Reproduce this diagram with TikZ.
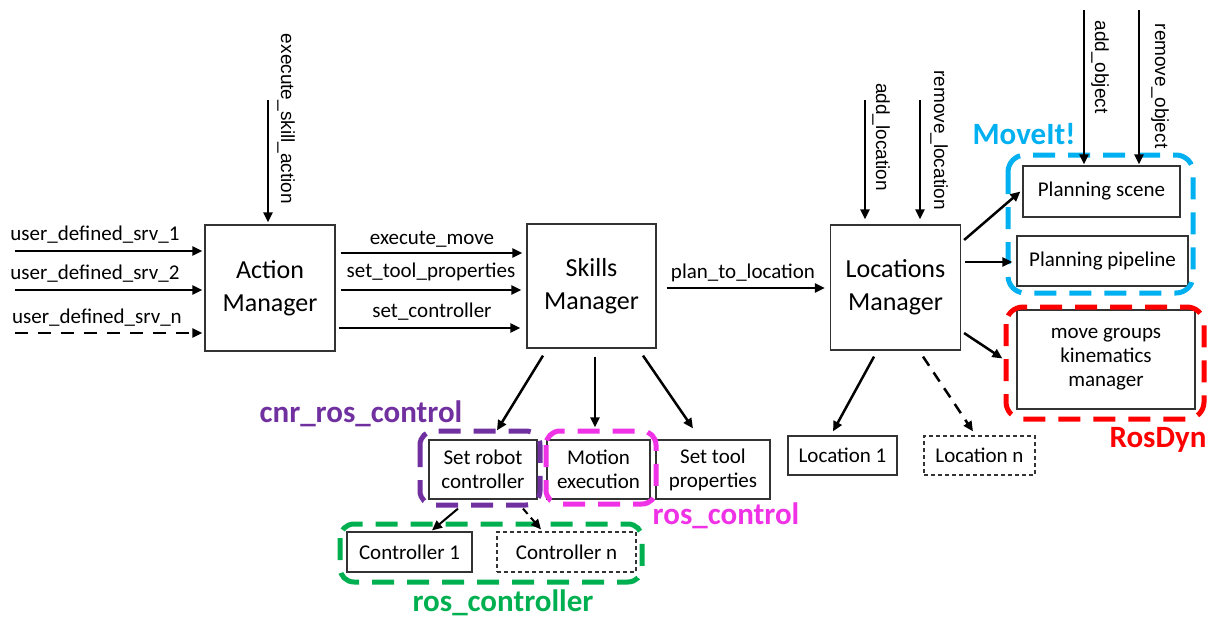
\documentclass[tikz,border=0pt]{standalone}
\usepackage{fontspec}
\setmainfont{Carlito}
\newfontfamily\arialfont{Liberation Sans}
\usetikzlibrary{arrows.meta,calc}

\definecolor{mvcyan}{RGB}{0,176,240}
\definecolor{rdred}{RGB}{255,0,0}
\definecolor{cnrpurple}{RGB}{112,48,160}
\definecolor{rcmagenta}{RGB}{240,50,230}
\definecolor{rcgreen}{RGB}{0,176,80}

\begin{document}
\begin{tikzpicture}[x=1pt,y=-1pt,
  box/.style={draw=black!80, line width=1.2pt, inner sep=0pt, align=center,
    font=\fontsize{21}{24}\selectfont},
  mgr/.style={box, font=\fontsize{26}{33}\selectfont},
  dbox/.style={box, dash pattern=on 4pt off 3pt},
  arr/.style={line width=2.5pt, -{Triangle[length=10pt,width=9pt]}},
  darr/.style={arr, dash pattern=on 13pt off 10pt},
  sdarr/.style={arr, dash pattern=on 7pt off 5pt},
  lbl/.style={font=\fontsize{21}{24}\selectfont, inner sep=0pt},
  vlbl/.style={font=\arialfont\fontsize{19}{22}\selectfont, rotate=-90, inner sep=0pt},
  grp/.style={line width=5pt, rounded corners=17pt, dash pattern=on 22pt off 13pt},
  glbl/.style={font=\bfseries\fontsize{31}{36}\selectfont, inner sep=0pt}
]
\useasboundingbox (0,0) rectangle (1213,618);
\fill[white] (0,0) rectangle (1213,618);

% managers
\node[mgr, minimum width=130pt, minimum height=126pt] (am) at (270,288) {Action\\Manager};
\node[mgr, minimum width=129pt, minimum height=124pt] (sm) at (591.5,286) {Skills\\Manager};
\node[mgr, minimum width=130pt, minimum height=125pt] (lm) at (895.5,287.5) {Locations\\Manager};

% MoveIt! / RosDyn components
\node[box, minimum width=157pt, minimum height=51pt] (ps) at (1101.5,191.5) {Planning scene};
\node[box, minimum width=171pt, minimum height=50pt] (pp) at (1102.5,261) {Planning pipeline};
\node[box, minimum width=178pt, minimum height=99pt] (mg) at (1106,359.5) {move groups\\kinematics\\manager};

% locations
\node[box, minimum width=109pt, minimum height=39pt] (l1) at (842.5,455.5) {Location 1};
\node[dbox, minimum width=111pt, minimum height=39pt] (ln) at (979.5,455.5) {Location n};

% skills
\node[box, minimum width=108pt, minimum height=59pt] (src) at (483,469.5) {Set robot\\controller};
\node[box, minimum width=103pt, minimum height=59pt] (me) at (598.5,469.5) {Motion\\execution};
\node[box, minimum width=114pt, minimum height=59pt] (stp) at (713,469.5) {Set tool\\properties};

% controllers
\node[box, minimum width=125pt, minimum height=40pt] (c1) at (409.5,552) {Controller 1};
\node[dbox, minimum width=139pt, minimum height=40pt] (cn) at (566.5,552) {Controller n};

% group frames
\draw[grp, cnrpurple, rounded corners=14pt] (420,431) rectangle (540,505);
\draw[grp, rcmagenta, rounded corners=14pt] (546,431) rectangle (656,504);
\draw[grp, rcgreen, rounded corners=14pt] (340,524) rectangle (642,582);
\draw[grp, mvcyan] (1008,155) rectangle (1193,293);
\draw[grp, rdred] (1006,307) rectangle (1204,419);

\node[glbl, cnrpurple] (gcnr) at (361,414) {cnr\_ros\_control};
\node[glbl, rcmagenta] (grc) at (726,516) {ros\_control};
\node[glbl, rcgreen] (grcr) at (503,603) {ros\_controller};
\node[glbl, mvcyan] (gmv) at (1024,134) {MoveIt!};
\node[glbl, rdred] (grd) at (1158,440) {RosDyn};

% user defined services
\coordinate (u1) at (15,251);
\coordinate (u2) at (15,290);
\coordinate (un) at (15,333);
\draw[arr, shorten >=2pt] (u1) -- (am.west |- u1);
\draw[arr, shorten >=2pt] (u2) -- (am.west |- u2);
\draw[darr, shorten >=2pt] (un) -- (am.west |- un);
\node[lbl] (tu1) at (95,235) {user\_defined\_srv\_1};
\node[lbl] (tu2) at (95,274) {user\_defined\_srv\_2};
\node[lbl] (tun) at (97,318) {user\_defined\_srv\_n};

% action manager -> skills manager
\coordinate (y1) at (0,253);
\coordinate (y2) at (0,290);
\coordinate (y3) at (0,328);
\draw[arr, shorten <=5pt, shorten >=4pt] (am.east |- y1) -- (sm.west |- y1);
\draw[arr, shorten <=5pt, shorten >=5pt] (am.east |- y2) -- (sm.west |- y2);
\draw[arr, shorten <=3pt, shorten >=6pt] (am.east |- y3) -- (sm.west |- y3);
\node[lbl] (te) at (432,239) {execute\_move};
\node[lbl] (tt) at (431,272) {set\_tool\_properties};
\node[lbl] (tc) at (432,312) {set\_controller};

% skills manager -> locations manager
\coordinate (y4) at (0,288);
\draw[arr, shorten <=10pt, shorten >=5pt] (sm.east |- y4) -- (lm.west |- y4);
\node[lbl] (tp) at (743,273) {plan\_to\_location};

% action service
\coordinate (esa) at (268,100);
\draw[arr, shorten >=2pt] (esa) -- (esa |- am.north);
\node[vlbl] (tesa) at (286,119) {execute\_skill\_action};

% location services
\coordinate (al) at (865,100);
\coordinate (rl) at (920,100);
\draw[arr, shorten >=5pt] (al) -- (al |- lm.north);
\draw[arr, shorten >=5pt] (rl) -- (rl |- lm.north);
\node[vlbl] (tal) at (881,137) {add\_location};
\node[vlbl] (trl) at (939,140) {remove\_location};

% object services
\coordinate (ao) at (1084,10);
\coordinate (ro) at (1139,10);
\draw[arr, shorten >=1pt] (ao) -- (ao |- ps.north);
\draw[arr, shorten >=1pt] (ro) -- (ro |- ps.north);
\node[vlbl] (tao) at (1100,67) {add\_object};
\node[vlbl] (tro) at (1160,86) {remove\_object};

% locations manager -> components
\draw[arr] ($(lm.east)+(3,-47.5)$) -- ($(ps.west)+(-2,0)$);
\draw[arr] ($(lm.east)+(4,-25.5)$) -- ($(pp.west)+(-4,1)$);
\draw[arr] ($(lm.east)+(3,45.5)$) -- ($(mg.west)+(-14,-1)$);
\draw[arr] ($(lm.south)+(-21.5,6)$) -- ($(l1.north)+(-9.5,-4)$);
\draw[darr, dash pattern=on 11pt off 8pt] ($(lm.south)+(27.5,6)$) -- ($(ln.north)+(-6.5,-4)$);

% skills manager -> skills
\draw[arr] ($(sm.south)+(-48.5,7)$) -- ($(src.north)+(14,-9)$);
\draw[arr] ($(sm.south)+(3.5,8)$) -- ($(me.north)+(-3.5,-12)$);
\draw[arr] ($(sm.south)+(51.5,7)$) -- ($(stp.north)+(-20,-11)$);

% set robot controller -> controllers
\draw[arr, line width=2pt] ($(src.south)+(-25,9)$) -- ($(c1.north)+(22.5,-1)$);
\draw[sdarr, line width=2pt] ($(src.south)+(40,9)$) -- ($(cn.north)+(-25.5,-2)$);
\end{tikzpicture}
\end{document}
